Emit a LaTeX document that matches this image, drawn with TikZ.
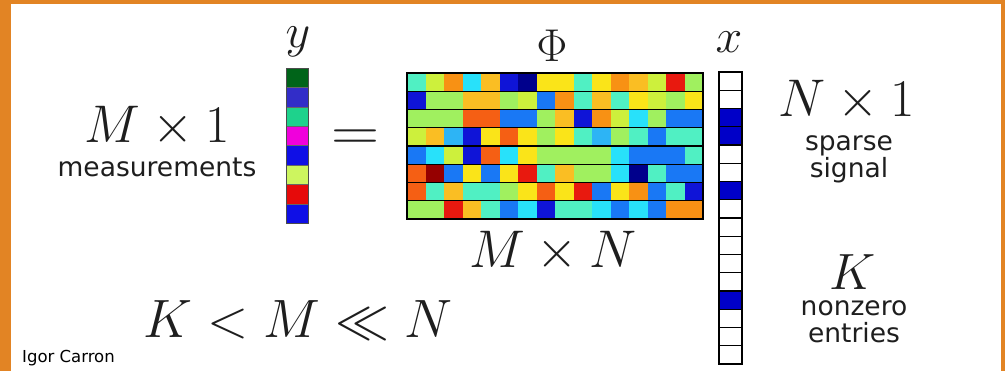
\RequirePackage{fix-cm}
\documentclass[tikz,border=0pt]{standalone}
\usepackage{fontspec}
\newfontfamily\labelfont{DejaVu Sans}
\usetikzlibrary{positioning}
\definecolor{frameorange}{RGB}{226,132,36}
% jet colours of the matrix
\definecolor{jetdb}{RGB}{0,0,140}
\definecolor{jetb}{RGB}{15,20,215}
\definecolor{jetlb}{RGB}{25,120,245}
\definecolor{jetsb}{RGB}{45,180,245}
\definecolor{jetc}{RGB}{40,225,250}
\definecolor{jetcg}{RGB}{80,240,195}
\definecolor{jetg}{RGB}{160,240,95}
\definecolor{jetgy}{RGB}{205,240,60}
\definecolor{jety}{RGB}{250,228,25}
\definecolor{jeta}{RGB}{250,190,35}
\definecolor{jeto}{RGB}{248,145,20}
\definecolor{jetor}{RGB}{245,95,20}
\definecolor{jetr}{RGB}{232,25,15}
\definecolor{jetdr}{RGB}{150,0,0}
% colours of y
\definecolor{ydgreen}{RGB}{0,100,25}
\definecolor{ypurple}{RGB}{50,45,200}
\definecolor{yteal}{RGB}{30,210,140}
\definecolor{ymagenta}{RGB}{240,0,220}
\definecolor{yblue}{RGB}{15,15,230}
\definecolor{ylime}{RGB}{205,245,95}
\definecolor{yred}{RGB}{230,10,10}
\definecolor{xblue}{RGB}{0,0,200}
\definecolor{inkgray}{RGB}{30,30,30}

\tikzset{
  bigmath/.style={anchor=base, inner sep=0pt, text=inkgray, font=\fontsize{53}{60}\selectfont},
  sanslabel/.style={anchor=base, inner sep=0pt, text=inkgray, font=\labelfont\fontsize{26.5}{30}\selectfont},
}

\begin{document}
\begin{tikzpicture}[x=1pt, y=-1pt]
% frame
\fill[frameorange] (0,0) rectangle (1005,371);
\fill[white] (11,4) rectangle (1001,371);
% measurement vector y
\foreach \c [count=\i from 0] in {ydgreen,ypurple,yteal,ymagenta,yblue,ylime,yred,yblue}
  \fill[\c] (286,{68+19.4*\i}) rectangle ++(22,19.4);
\foreach \i in {1,...,7}
  \draw[black!60, line width=0.5pt] (286,{68+19.4*\i}) -- ++(22,0);
\draw[black!70, line width=0.8pt] (286,68) rectangle (308,223);
% sensing matrix Phi
\foreach \row [count=\j from 0] in {
  {cg,gy,o,c,a,b,db,y,y,cg,y,o,a,gy,r,g},
  {b,g,g,a,a,g,gy,lb,o,cg,a,cg,y,gy,g,y},
  {g,g,g,or,or,lb,lb,g,a,b,o,gy,c,g,lb,lb},
  {gy,a,sb,b,y,or,y,g,y,cg,sb,g,cg,lb,cg,cg},
  {lb,c,gy,b,or,c,y,g,g,g,g,c,lb,lb,lb,cg},
  {or,dr,lb,y,lb,y,r,cg,a,g,g,c,db,cg,lb,lb},
  {or,cg,a,cg,cg,g,y,or,y,r,lb,y,o,lb,cg,b},
  {g,g,r,a,cg,lb,c,b,cg,cg,c,lb,c,lb,o,o}}
  \foreach \c [count=\i from 0] in \row
    \fill[jet\c] ({407+18.5*\i},{73+18.25*\j}) rectangle ++(18.5,18.25);
\foreach \j in {1,...,7}
  \draw[line width=1.4pt] (407,{73+18.25*\j}) -- (703,{73+18.25*\j});
\draw[line width=1.6pt] (407,73) rectangle (703,219);
% sparse vector x
\foreach \i in {2,3,6,12}
  \fill[xblue] (719,{72+18.25*\i}) rectangle ++(23,18.25);
\foreach \i in {1,...,15}
  \draw[line width=1.2pt] (719,{72+18.25*\i}) -- ++(23,0);
\draw[line width=1.4pt] (719,72) rectangle (742,364);
% labels
\node[bigmath] (lhsdim) at (157,143) {$M\times 1$};
\node[sanslabel] (meas) at (157,177) {measurements};
\node[bigmath, font=\fontsize{48}{54}\selectfont] (ylabel) at (298,48) {$y$};
\node[bigmath, font=\fontsize{58}{64}\selectfont, xscale=1.15] (eqsign) at (356,151) {$=$};
\node[bigmath, font=\fontsize{46}{52}\selectfont] (philabel) at (552,62) {$\Phi$};
\node[bigmath, font=\fontsize{48}{54}\selectfont] (xlabel) at (729,53) {$x$};
\node[bigmath] (mndim) at (553,268) {$M\times N$};
\node[bigmath] (xdim) at (847,117) {$N\times 1$};
\node[sanslabel] (sparse) at (849,151) {sparse};
\node[sanslabel] (signal) at (849,178) {signal};
\node[bigmath, font=\fontsize{51}{58}\selectfont] (klabel) at (853,290) {$K$};
\node[sanslabel] (nonzero) at (854,316) {nonzero};
\node[sanslabel] (entries) at (854,343) {entries};
\node[bigmath, font=\fontsize{54}{60}\selectfont] (ineq) at (298,338) {$K<M\ll N$};
\node[anchor=base west, inner sep=0pt, font=\labelfont\fontsize{16.5}{19}\selectfont] (credit) at (22,363) {Igor Carron};
\end{tikzpicture}
\end{document}
